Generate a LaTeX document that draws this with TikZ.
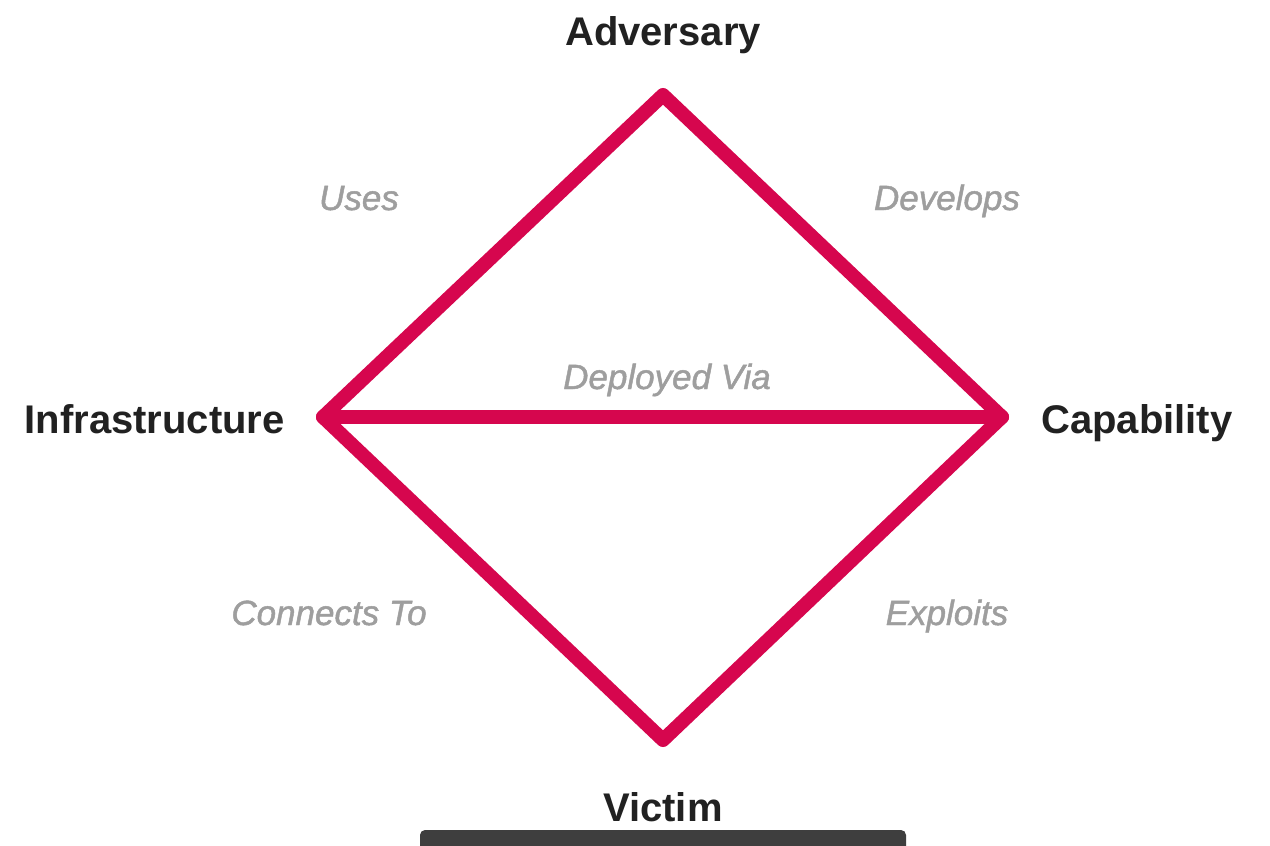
\documentclass[tikz,border=0pt]{standalone}
\usepackage{fontspec}
\setmainfont{Liberation Sans}
\newfontfamily\relfont{Liberation Sans}[ItalicFeatures={FakeBold=1.3}]
\begin{document}
\begin{tikzpicture}[x=1pt,y=-1pt,
  vertexlabel/.style={font=\fontsize{40}{40}\selectfont\bfseries, text=black!87, inner sep=0pt, anchor=base},
  edgelabel/.style={font=\relfont\fontsize{35}{35}\selectfont\itshape, text=black!38, inner sep=0pt, anchor=base},
  edge/.style={draw=diamondred, line width=14pt, line join=round, line cap=round}]
\definecolor{diamondred}{RGB}{214,6,78}
\definecolor{barfill}{RGB}{62,62,62}
\useasboundingbox (0,0) rectangle (1270,846);
\fill[white] (0,0) rectangle (1270,846);

% corners of the diamond
\coordinate (adv) at (663,95);
\coordinate (inf) at (323,417);
\coordinate (cap) at (1002,417);
\coordinate (vic) at (663,740);

% sides and the middle link
\draw[edge] (adv) -- (cap) -- (vic) -- (inf) -- cycle;
\draw[edge] (inf) -- (cap);

% vertex names
\node[vertexlabel] (advlabel) at (663,45) {Adversary};
\node[vertexlabel, anchor=base east] (inflabel) at (285,433) {Infrastructure};
\node[vertexlabel, anchor=base west] (caplabel) at (1041,433) {Capability};
\node[vertexlabel] (viclabel) at (663,821) {Victim};

% relationship names
\node[edgelabel] (uses) at (359,210) {Uses};
\node[edgelabel] (develops) at (947,210) {Develops};
\node[edgelabel] (deployed) at (667,389) {Deployed Via};
\node[edgelabel] (connects) at (329,625) {Connects To};
\node[edgelabel] (exploits) at (947,625) {Exploits};

% caption bar along the bottom edge
\fill[barfill, rounded corners=5pt] (420,830) rectangle (906,860);
\end{tikzpicture}
\end{document}
